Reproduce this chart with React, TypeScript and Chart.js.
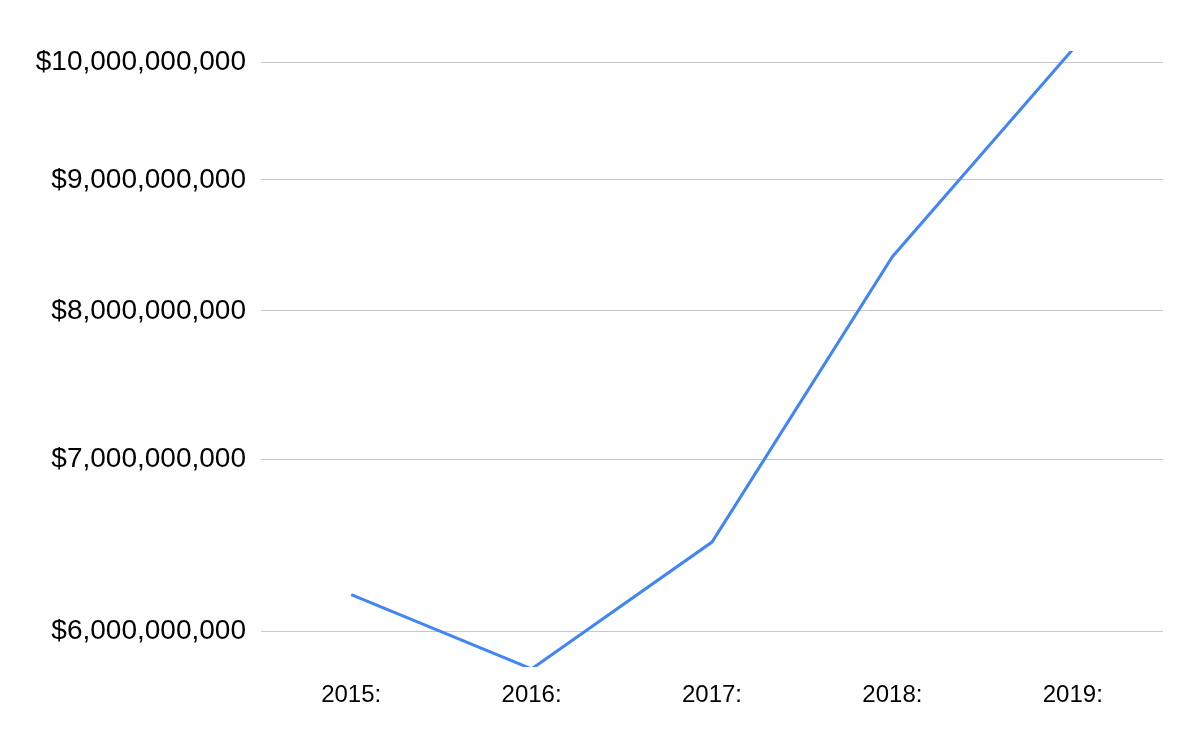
import React, { useEffect, useRef } from "react";
import { Chart, registerables } from "chart.js";

Chart.register(...registerables);

const categories = ["2015:", "2016:", "2017:", "2018:", "2019:"];
const values = [6.2e9, 5.8e9, 6.5e9, 8.4e9, 1.012e10];
const yTicks = [6e9, 7e9, 8e9, 9e9, 1e10];
const yMin = 5.81e9;
const yMax = 1.0105e10;

export default function App() {
  const ref = useRef<HTMLCanvasElement>(null);
  useEffect(() => {
    document.body.style.margin = "0";
    const ctx = ref.current!;
    const chart = new Chart(ctx, {
      type: "line",
      data: {
        labels: categories,
        datasets: [
          {
            data: values,
            borderColor: "#4285F4",
            borderWidth: 3,
            pointRadius: 0,
            pointHoverRadius: 0,
            tension: 0,
            fill: false,
          },
        ],
      },
      options: {
        animation: false,
        responsive: false,
        maintainAspectRatio: false,
        layout: { padding: { top: 51, right: 37, left: 0, bottom: 0 } },
        plugins: { legend: { display: false }, tooltip: { enabled: false } },
        scales: {
          x: {
            offset: true,
            grid: { display: false, drawTicks: false },
            border: { display: false },
            ticks: {
              color: "#000",
              padding: 14,
              font: { family: "'Liberation Sans', Arial, sans-serif", size: 24 },
              maxRotation: 0,
            },
            afterFit: (s: any) => {
              s.height = 75;
            },
          },
          y: {
            type: "logarithmic",
            min: yMin,
            max: yMax,
            grid: { color: "#c6c6c6", lineWidth: 1, drawTicks: false },
            border: { display: false },
            afterBuildTicks: (s: any) => {
              s.ticks = yTicks.map((v) => ({ value: v }));
            },
            ticks: {
              color: "#000",
              padding: 15,
              font: { family: "'Liberation Sans', Arial, sans-serif", size: 28 },
              callback: (v: any) => "$" + Number(v).toLocaleString("en-US"),
            },
            afterFit: (s: any) => {
              s.width = 261;
            },
          },
        },
      },
    });
    return () => chart.destroy();
  }, []);
  return <canvas ref={ref} width={1200} height={742} style={{ display: "block" }} />;
}
